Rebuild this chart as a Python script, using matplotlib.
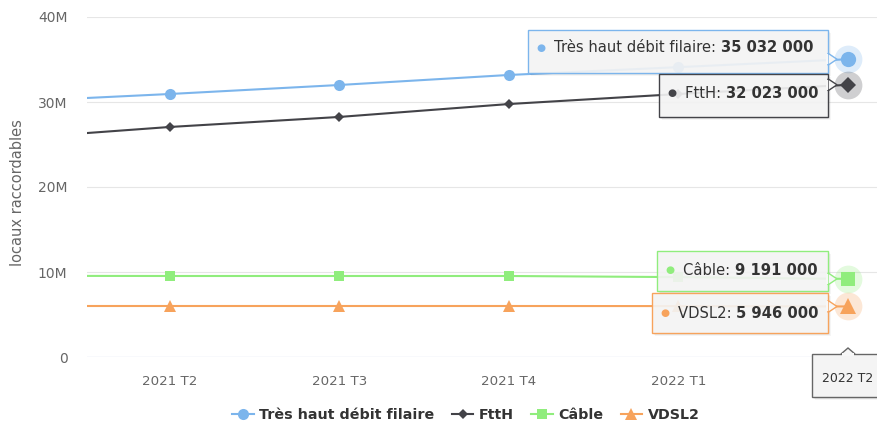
import matplotlib
matplotlib.use("Agg")
import matplotlib.pyplot as plt
from matplotlib.patches import Polygon, Rectangle
from matplotlib.lines import Line2D
from matplotlib.text import Annotation

plt.rcParams["font.family"] = ["DejaVu Sans"]

# ---- data ----
categories = ["2021 T1", "2021 T2", "2021 T3", "2021 T4", "2022 T1", "2022 T2"]
thd_filaire = [29980000, 30940000, 32000000, 33180000, 34100000, 35032000]
ftth = [25600000, 27060000, 28240000, 29760000, 30940000, 32023000]
cable = [9550000, 9530000, 9530000, 9530000, 9400000, 9191000]
vdsl2 = [6000000, 6000000, 6000000, 6000000, 5990000, 5946000]
y_ticks = [0, 10000000, 20000000, 30000000, 40000000]
y_tick_labels = ["0", "10M", "20M", "30M", "40M"]

series = [
    ("Très haut débit filaire", thd_filaire, "#7cb5ec", "o", 8.0),
    ("FttH", ftth, "#434348", "D", 5.5),
    ("Câble", cable, "#90ed7d", "s", 7.5),
    ("VDSL2", vdsl2, "#f7a35c", "^", 8.0),
]

W, H = 878, 423
fig = plt.figure(figsize=(W / 100, H / 100), dpi=100)
fig.patch.set_facecolor("white")


def fx(px):
    return px / W


def fy(py):
    return 1 - py / H


ax = fig.add_axes([fx(87), fy(357), fx(878) - fx(87), fy(17) - fy(357)])
ax.set_facecolor("white")
ax.set_xlim(87 / 169.6, 878 / 169.6)
ax.set_ylim(0, 40000000)
for s in ax.spines.values():
    s.set_visible(False)

# horizontal grid + axis line
for v in y_ticks[1:]:
    ax.axhline(v, color="#e6e6e6", lw=0.8, zorder=0)
ax.axhline(0, color="#ccd6eb", lw=0.9, zorder=0)

ax.set_yticks(y_ticks)
ax.set_yticklabels(y_tick_labels)
xs = list(range(len(categories)))
last = len(categories) - 1
# the last category is shown in the crosshair label box instead
ax.set_xticks(xs[1:last])
ax.set_xticklabels(categories[1:last])
ax.tick_params(axis="both", length=0, labelsize=9.6, labelcolor="#666666")
ax.tick_params(axis="y", pad=14, labelsize=10)
ax.tick_params(axis="x", pad=13)
fig.text(fx(18), fy(193), "locaux raccordables", color="#666666", fontsize=10.5,
         rotation=90, ha="center", va="center")

for name, vals, col, mk, ms in series:
    ax.plot(xs, vals, color=col, lw=1.5, marker=mk, ms=ms,
            markeredgewidth=0, zorder=3)
    # hover halo and enlarged marker on the last point
    ax.plot([xs[last]], [vals[last]], marker="o", ms=20, color=col, alpha=0.25,
            markeredgewidth=0, zorder=4, clip_on=False)
    ax.plot([xs[last]], [vals[last]], marker=mk, ms=ms + 3,
            color=col, markeredgewidth=0, zorder=5, clip_on=False)


def fmt(v):
    return f"{v:,}".replace(",", " ")


BG = (0.97, 0.97, 0.97)


def draw_box(l, t, r, b, edge):
    # soft shadow
    for i, a in enumerate([0.06, 0.05, 0.04]):
        fig.add_artist(Rectangle((fx(l + 1 + i), fy(b + 1 + i)), fx(r) - fx(l),
                                 fy(t) - fy(b), transform=fig.transFigure,
                                 facecolor="black", alpha=a, edgecolor="none",
                                 zorder=8))
    fig.add_artist(Rectangle((fx(l), fy(b)), fx(r) - fx(l), fy(t) - fy(b),
                             transform=fig.transFigure,
                             facecolor=BG + (0.9,), edgecolor=edge, lw=1.0, zorder=9))


def tooltip(idx, vals, col, label, box, text_y):
    l, t, r, b = box
    draw_box(l, t, r, b, col)
    # callout pointing to the hovered point
    px, py = ax.transData.transform((xs[idx], vals[idx]))
    py_img = H - py
    fig.add_artist(Polygon([(fx(r), fy(py_img - 6)), (fx(r + 9), fy(py_img)),
                            (fx(r), fy(py_img + 6))], closed=True,
                           transform=fig.transFigure, facecolor=BG, edgecolor=col,
                           lw=1.0, zorder=9))
    fig.add_artist(Rectangle((fx(r - 1.5), fy(py_img + 5)), fx(2), fy(py_img - 5) - fy(py_img + 5),
                             transform=fig.transFigure, facecolor=BG,
                             edgecolor="none", zorder=9.5))
    fig.text(fx(l + 13), fy(text_y), "●", color=col, fontsize=7.5, va="center",
             ha="center", zorder=10)
    t1 = fig.text(fx(l + 26), fy(text_y), label + ": ", color="#333333", fontsize=10.6,
                  va="center", ha="left", zorder=10)
    fig.add_artist(Annotation(fmt(vals[idx]), xy=(1, 0.5), xycoords=t1,
                              va="center", ha="left", fontsize=10.6,
                              fontweight="bold", color="#333333", zorder=10))


tooltip(last, thd_filaire, "#7cb5ec", "Très haut débit filaire", (528, 30, 828, 73), 48)
tooltip(last, ftth, "#434348", "FttH", (659, 74, 828, 117), 93)
tooltip(last, cable, "#90ed7d", "Câble", (657, 251, 828, 291), 270)
tooltip(last, vdsl2, "#f7a35c", "VDSL2", (652, 293, 828, 333), 313)

# category label on the x axis
cx, _ = ax.transData.transform((xs[last], 0))
draw_box(cx - 36, 354, 886, 397, "#666666")
fig.add_artist(Polygon([(fx(cx - 7), fy(354)), (fx(cx), fy(348)), (fx(cx + 7), fy(354))],
                       closed=True, transform=fig.transFigure,
                       facecolor=BG, edgecolor="#666666", lw=1.0, zorder=9))
fig.add_artist(Rectangle((fx(cx - 6), fy(355.5)), fx(12), fy(353) - fy(355.5),
                         transform=fig.transFigure, facecolor=BG,
                         edgecolor="none", zorder=9.5))
fig.text(cx / W, fy(378), categories[last], color="#333333", fontsize=9,
         ha="center", va="center", zorder=10)

# legend
handles = [Line2D([], [], color=c, lw=1.5, marker=m, ms=ms, markeredgewidth=0)
           for _, _, c, m, ms in series]
fig.legend(handles, [s[0] for s in series], loc="center",
           bbox_to_anchor=(fx(466), fy(415)), ncol=4, frameon=False,
           prop={"weight": "bold", "size": 10.3}, labelcolor="#333333",
           handlelength=1.5, handletextpad=0.4, columnspacing=1.2)

fig.savefig("out.png", dpi=100, facecolor="white")
